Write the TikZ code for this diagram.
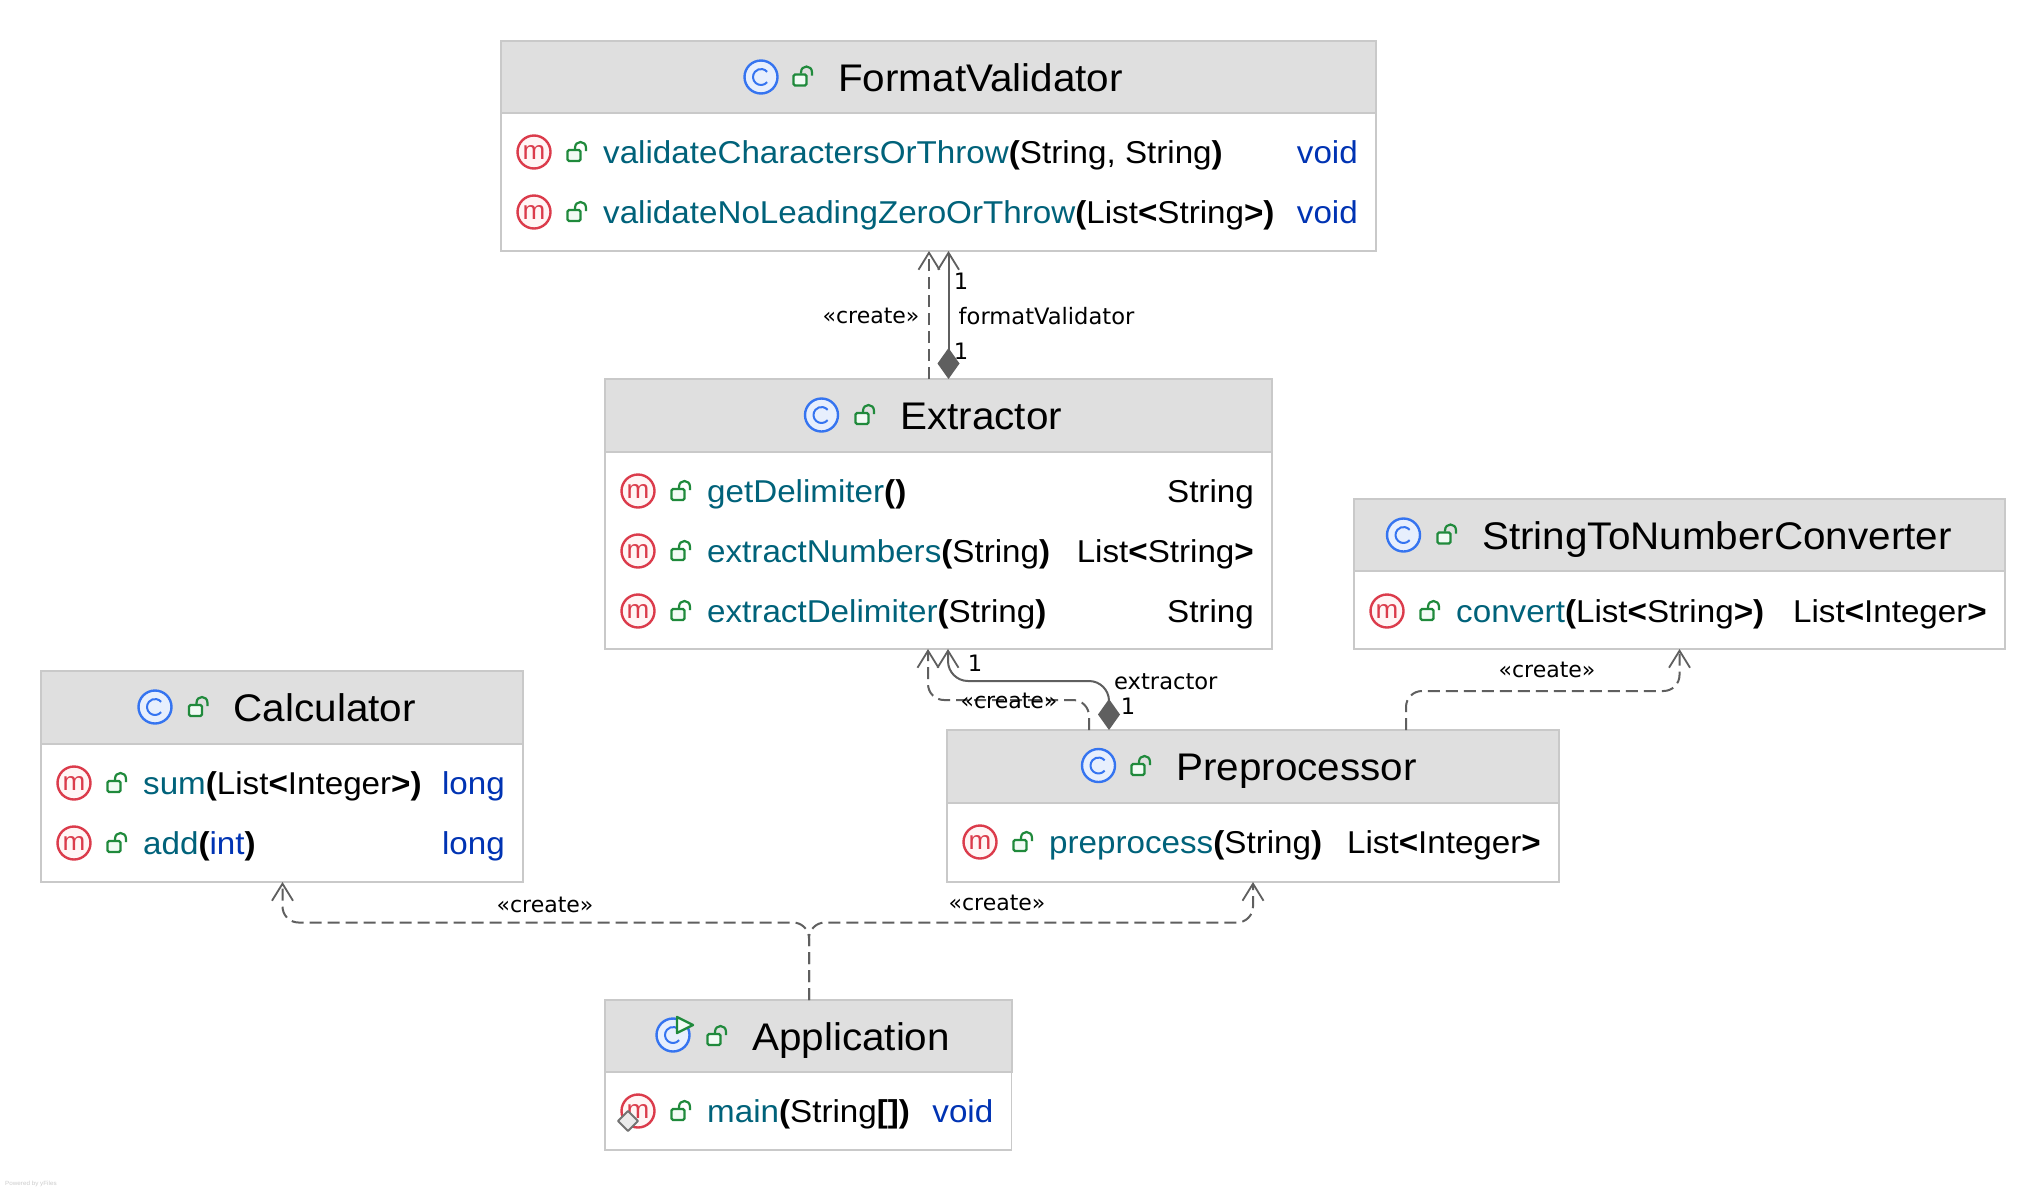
\documentclass[tikz,border=0pt]{standalone}
\usepackage{fontspec}
\setmainfont{Liberation Sans}[FakeStretch=1.05]
\newfontfamily\edgefont{DejaVu Sans}
\usetikzlibrary{arrows.meta}
\definecolor{hdr}{HTML}{DFDFDF}
\definecolor{brd}{HTML}{C9C9C9}
\definecolor{teal}{HTML}{00627A}
\definecolor{kw}{HTML}{0033B3}
\definecolor{mred}{HTML}{DB3B4B}
\definecolor{mfill}{HTML}{FFF5F5}
\definecolor{cblue}{HTML}{3574F0}
\definecolor{cfill}{HTML}{E7EFFD}
\definecolor{lgreen}{HTML}{208A3C}
\definecolor{lfill}{HTML}{F2FBF5}
\definecolor{edgec}{HTML}{5F5F5F}
\tikzset{
  x=1pt,y=-1pt,
  boxbody/.style={draw=brd,fill=white,line width=1.6pt,anchor=north west,inner sep=0pt,outer sep=0pt},
  boxhead/.style={draw=brd,fill=hdr,line width=2pt,anchor=north west,inner sep=0pt,outer sep=0pt},
  titletext/.style={anchor=base west,inner sep=0pt,font=\fontsize{38.5}{42}\selectfont},
  rowtext/.style={anchor=base west,inner sep=0pt,font=\fontsize{31.6}{36}\selectfont},
  rettext/.style={anchor=base east,inner sep=0pt,font=\fontsize{31.6}{36}\selectfont},
  edgelabel/.style={inner sep=0pt,font=\edgefont\fontsize{22.6}{26}\selectfont},
  createlabel/.style={inner sep=0pt,font=\edgefont\fontsize{22}{26}\selectfont},
  dep/.style={draw=edgec,line width=2pt,dash pattern=on 12pt off 6pt},
  assoc/.style={draw=edgec,line width=2pt},
  opentip/.style={-{Straight Barb[length=17pt,width=21pt,line width=1.8pt]}},
  comptip/.style={{Diamond[length=31pt,width=22pt,fill=edgec,line width=0pt]}-{Straight Barb[length=17pt,width=21pt,line width=1.8pt]}},
}
\newcommand{\lockicon}[2]{%
  \begin{scope}[shift={(#1,#2)}]
    \draw[lgreen,fill=lfill,line width=2.2pt,rounded corners=1.5pt] (-9.5,-2) rectangle (3.5,9);
    \draw[lgreen,line width=2.2pt] (-2,-3) -- (-2,-4) .. controls (-2,-12) and (9,-12) .. (9,-4) -- (9,-1);
  \end{scope}}
\newcommand{\carc}[3]{\draw[cblue,line width=2pt] (#1,#2) ++(40:#3) arc[start angle=40,end angle=320,radius=#3];}
\newcommand{\cicon}[2]{%
  \draw[cblue,fill=cfill,line width=2.4pt] (#1,#2) circle[radius=16.5];
  \carc{#1}{#2}{8}}
\newcommand{\micon}[3]{%
  \draw[mred,fill=mfill,line width=2.4pt] (#1,#2) circle[radius=16.5];
  \node[inner sep=0pt,text=mred,font=\fontsize{26}{28}\selectfont,anchor=base] (#3) at (#1,#2+7) {m};}
\newcommand{\classbox}[8]{%
  \node[boxbody,minimum width={#4-#2},minimum height={#5-#3}] (#1) at (#2,#3) {};
  \node[boxhead,minimum width={#4-#2},minimum height={#6-#3}] (#1-h) at (#2,#3) {};
  \node[titletext] (#1-t) at (#7,#3+50.5) {#8};
  \lockicon{#7-35}{#3+36}}
% id, x1, x2, y, rowid, name+params, return
\newcommand{\mrow}[7]{%
  \micon{#2+33}{#4}{#1-#5-i}
  \lockicon{#2+76}{#4}
  \node[rowtext] (#1-#5) at (#2+102,#4+11) {#6};
  \node[rettext] (#1-#5-r) at (#3-18,#4+11) {#7};}
\newcommand{\nm}[1]{\textcolor{teal}{#1}}
\newcommand{\kw}[1]{\textcolor{kw}{#1}}
\newcommand{\bd}[1]{\textbf{#1}}
\begin{document}
\begin{tikzpicture}
\useasboundingbox (0,0) rectangle (2044,1192);
\fill[white] (0,0) rectangle (2044,1192);

\classbox{fv}{501}{40.5}{1376}{251}{113}{838}{FormatValidator}
\cicon{761}{77}
\mrow{fv}{501}{1376}{152}{a}{\nm{validateCharactersOrThrow}\bd{(}String, String\bd{)}}{\kw{void}}
\mrow{fv}{501}{1376}{212}{b}{\nm{validateNoLeadingZeroOrThrow}\bd{(}List\bd{<}String\bd{>)}}{\kw{void}}

\classbox{ext}{605}{379}{1272}{649}{451.5}{900}{Extractor}
\cicon{821.5}{415}
\mrow{ext}{605}{1272}{491}{a}{\nm{getDelimiter}\bd{()}}{String}
\mrow{ext}{605}{1272}{551}{b}{\nm{extractNumbers}\bd{(}String\bd{)}}{List\bd{<}String\bd{>}}
\mrow{ext}{605}{1272}{611}{c}{\nm{extractDelimiter}\bd{(}String\bd{)}}{String}

\classbox{stn}{1354}{498.5}{2005}{649}{570.5}{1482}{StringToNumberConverter}
\cicon{1403.5}{535}
\mrow{stn}{1354}{2005}{611}{a}{\nm{convert}\bd{(}List\bd{<}String\bd{>)}}{List\bd{<}Integer\bd{>}}

\classbox{cal}{41}{671}{523}{882}{744}{233.5}{Calculator}
\cicon{155}{707}
\mrow{cal}{41}{523}{783}{a}{\nm{sum}\bd{(}List\bd{<}Integer\bd{>)}}{\kw{long}}
\mrow{cal}{41}{523}{843}{b}{\nm{add}\bd{(}\kw{int}\bd{)}}{\kw{long}}

\classbox{pre}{947}{730}{1559}{882}{803}{1176}{Preprocessor}
\cicon{1098.5}{765.5}
\mrow{pre}{947}{1559}{842}{a}{\nm{preprocess}\bd{(}String\bd{)}}{List\bd{<}Integer\bd{>}}

\classbox{app}{605}{1000}{1011.5}{1150}{1072}{752}{Application}
\cicon{673}{1035}
\draw[lgreen,fill=lfill,line width=2.4pt,line join=round] (677,1017) -- (693,1025) -- (677,1033) -- cycle;
\mrow{app}{605}{1011.5}{1111}{a}{\nm{main}\bd{(}String\bd{[])}}{\kw{void}}
\draw[draw=black!55,fill=black!8,line width=2pt,line join=round] (628,1111) -- (638,1121) -- (628,1131) -- (618,1121) -- cycle;

% connector guide coordinates
\coordinate (xa) at (929,0);
\coordinate (xb) at (948.5,0);
\coordinate (e1a) at (1089,700);
\coordinate (e1b) at (928,700);
\coordinate (e2a) at (1109,681);
\coordinate (e2b) at (948,681);
\coordinate (e3a) at (1406,691);
\coordinate (e3b) at (1679.5,691);
\coordinate (e4a) at (809,922.5);
\coordinate (e4b) at (282.5,922.5);
\coordinate (e4c) at (1253,922.5);

\draw[dep,opentip] (ext.north -| xa) -- (fv.south -| xa);
\draw[assoc,comptip] (ext.north -| xb) -- (fv.south -| xb);
\draw[dep,opentip,rounded corners=16pt] (pre.north -| e1a) -- (e1a) -- (e1b) -- (ext.south -| e1b);
\draw[assoc,comptip,rounded corners=20pt] (pre.north -| e2a) -- (e2a) -- (e2b) -- (ext.south -| e2b);
\draw[dep,opentip,rounded corners=16pt] (pre.north -| e3a) -- (e3a) -- (e3b) -- (stn.south -| e3b);
\draw[dep,opentip,rounded corners=16pt] (app.north -| e4a) -- (e4a) -- (e4b) -- (cal.south -| e4b);
\draw[dep,opentip,rounded corners=16pt] (app.north -| e4a) -- (e4a) -- (e4c) -- (pre.south -| e4c);

\node[createlabel] (l1) at (871,316) {«create»};
\node[edgelabel,anchor=west] (l2) at (958.5,316) {formatValidator};
\node[edgelabel] (l3) at (961,281) {1};
\node[edgelabel] (l4) at (961,351) {1};
\node[createlabel] (l5) at (1009,700.5) {«create»};
\node[edgelabel,anchor=west] (l6) at (1114,681.5) {extractor};
\node[edgelabel] (l7) at (975,663.5) {1};
\node[edgelabel] (l8) at (1128,706.5) {1};
\node[createlabel] (l9) at (1547,670) {«create»};
\node[createlabel] (l10) at (545,905) {«create»};
\node[createlabel] (l11) at (997,903) {«create»};
\node[anchor=west,inner sep=0pt,text=black!20,font=\fontsize{6}{7}\selectfont] (yf) at (5,1184) {Powered by yFiles};
\end{tikzpicture}
\end{document}
